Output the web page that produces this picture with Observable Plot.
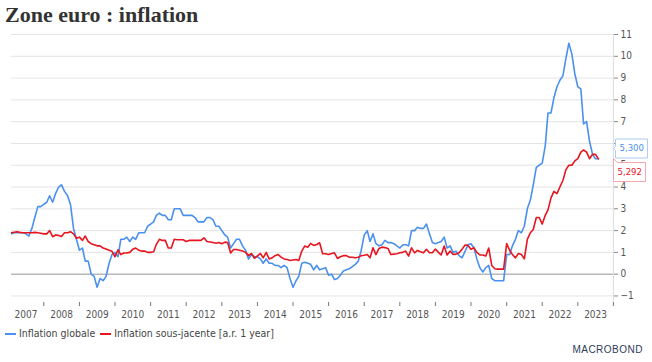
<!DOCTYPE html>
<html><head><meta charset="utf-8">
<script src="https://cdn.jsdelivr.net/npm/d3@7"></script>
<script src="https://cdn.jsdelivr.net/npm/@observablehq/plot@0.6"></script>
<style>
body{margin:0;background:#fff;width:652px;height:362px;position:relative;overflow:hidden;font-family:"Liberation Sans Narrow","DejaVu Sans Condensed","Liberation Sans",sans-serif;}
#title{position:absolute;left:5px;top:3px;font:bold 22px "Liberation Serif",serif;color:#333;line-height:24px;white-space:nowrap}
#chart{position:absolute;left:0;top:26px}
#legend{position:absolute;left:5px;top:326px;font-size:10.5px;color:#444;line-height:14px;white-space:nowrap}
.sw{display:inline-block;width:11px;height:2px;vertical-align:middle;margin-right:3px}
.item{margin-right:5px}
#logo{position:absolute;right:9px;top:344px;font:10px "Liberation Sans",sans-serif;letter-spacing:0.5px;color:#2d3b5a}
.tip-blue text{fill:#4a90ee !important;stroke:none !important}
.tip-red text{fill:#e8141e !important;stroke:none !important}
</style>
</head><body>
<div id="title">Zone euro : inflation</div>
<div id="chart"></div>
<div id="legend"></div>
<div id="logo">MACROBOND</div>
<script>
// Monthly values, Jan 2007 .. Aug 2023
const headline = [
  1.8, 1.85, 1.9, 1.9, 1.9, 1.9, 1.85, 1.75, 2.1, 2.6, 3.1, 3.1,
  3.2, 3.3, 3.6, 3.3, 3.7, 4.0, 4.1, 3.8, 3.6, 3.2, 2.1, 1.6,
  1.1, 1.2, 0.6, 0.6, 0.0, -0.1, -0.6, -0.2, -0.3, -0.1, 0.5, 0.9,
  1.0, 0.8, 1.6, 1.6, 1.7, 1.5, 1.7, 1.6, 1.9, 1.9, 1.9, 2.2,
  2.3, 2.4, 2.7, 2.8, 2.7, 2.7, 2.5, 2.5, 3.0, 3.0, 3.0, 2.7,
  2.7, 2.7, 2.7, 2.6, 2.4, 2.4, 2.4, 2.6, 2.6, 2.5, 2.2, 2.2,
  2.0, 1.8, 1.7, 1.2, 1.4, 1.6, 1.6, 1.3, 1.1, 0.7, 0.9, 0.8,
  0.8, 0.7, 0.5, 0.7, 0.5, 0.5, 0.4, 0.4, 0.3, 0.4, 0.3, -0.2,
  -0.6, -0.3, -0.1, 0.5, 0.55, 0.5, 0.45, 0.2, 0.4, 0.2, 0.25, 0.3,
  -0.05, 0.0, -0.25, -0.2, -0.05, 0.15, 0.2, 0.25, 0.35, 0.45, 0.6, 1.1,
  1.8, 2.0, 1.5, 1.85, 1.4, 1.3, 1.35, 1.55, 1.45, 1.45, 1.4, 1.3,
  1.2, 1.35, 1.35, 1.3, 2.0, 2.0, 2.15, 2.1, 2.1, 2.3, 1.85, 1.45,
  1.4, 1.45, 1.5, 1.7, 1.2, 1.3, 1.0, 1.05, 0.85, 0.75, 1.05, 1.35,
  1.4, 1.2, 0.7, 0.3, 0.1, 0.3, 0.4, -0.2, -0.3, -0.3, -0.3, -0.3,
  0.9, 0.9, 1.3, 1.6, 2.0, 1.9, 2.2, 3.0, 3.4, 4.1, 4.9, 5.0,
  5.1, 5.9, 7.4, 7.4, 8.1, 8.6, 8.9, 9.1, 9.9, 10.6, 10.1, 9.2,
  8.6, 8.5, 6.9, 7.0, 6.1, 5.5, 5.3, 5.3
];
const core = [
  1.88, 1.9, 1.92, 1.95, 1.92, 1.9, 1.9, 1.9, 1.9, 1.92, 1.9, 1.88,
  1.85, 1.85, 2.0, 1.72, 1.8, 1.78, 1.73, 1.9, 1.9, 1.95, 1.85, 1.65,
  1.7, 1.55, 1.75, 1.5, 1.4, 1.35, 1.3, 1.3, 1.2, 1.15, 1.1, 1.05,
  0.8, 1.12, 0.9, 0.97, 0.97, 1.0, 1.14, 1.2, 1.1, 1.06, 1.06, 1.0,
  1.0, 1.03, 1.37, 1.6, 1.55, 1.55, 1.2, 1.2, 1.6, 1.58, 1.58, 1.58,
  1.5, 1.55, 1.55, 1.55, 1.55, 1.55, 1.67, 1.5, 1.48, 1.45, 1.42, 1.45,
  1.4, 1.47, 1.45, 0.97, 1.13, 1.13, 1.1, 1.06, 1.0, 0.85, 0.95, 0.73,
  0.84, 0.95, 0.75, 1.0, 0.7, 0.75, 0.85, 0.9, 0.78, 0.7, 0.67, 0.63,
  0.65, 0.67, 0.63, 1.06, 1.29, 1.24, 1.41, 1.32, 1.36, 1.44, 0.94, 0.94,
  0.9, 0.95, 0.98, 0.72, 0.8, 0.85, 0.85, 0.78, 0.78, 0.75, 0.78, 0.85,
  0.87, 0.9, 0.75, 1.21, 0.9, 1.18, 1.24, 1.22, 1.18, 0.9, 0.92, 0.94,
  0.98, 1.0, 1.06, 0.83, 1.21, 0.98, 1.09, 1.03, 0.98, 1.14, 0.98, 0.98,
  1.15, 1.0, 0.88, 1.29, 0.88, 1.06, 0.9, 0.92, 0.98, 1.14, 1.34, 1.32,
  1.14, 1.21, 1.0, 0.88, 0.88, 0.83, 1.2, 0.4, 0.25, 0.23, 0.23, 0.23,
  1.4, 1.1, 0.9, 0.75, 0.95, 0.9, 0.7, 1.6, 1.9, 2.05, 2.6, 2.6,
  2.3, 2.7, 2.95, 3.5, 3.8, 3.7, 4.0, 4.3, 4.8, 5.0, 5.0, 5.2,
  5.3, 5.6, 5.7, 5.6, 5.3, 5.5, 5.5, 5.292
];
const years = [2007, 2008, 2009, 2010, 2011, 2012, 2013, 2014, 2015, 2016, 2017, 2018, 2019, 2020, 2021, 2022, 2023];
const yTicks = [-1, 0, 1, 2, 3, 4, 5, 6, 7, 8, 9, 10, 11];
const seriesNames = ["Inflation globale", "Inflation sous-jacente [a.r. 1 year]"];
const endLabels = ["5,300", "5,292"];
const colors = ["#4a90ee", "#e8141e"];

const startYear = years[0];
const yMin = -1.3, yMax = 11;
const dates = headline.map((_, i) => new Date(Date.UTC(startYear, i, 1)));
const rows = dates.map((d, i) => ({date: d, headline: headline[i], core: core[i]}));
const xStart = new Date(Date.UTC(startYear, 0, 1));
const xEnd = new Date(Date.UTC(years[years.length - 1] + 1, 0, 1));
const boundaries = years.map(y => new Date(Date.UTC(y + 1, 0, 1)));
const labelDates = years.map(y => new Date(Date.UTC(y, 6, 2)));

const font = '"Liberation Sans Narrow","DejaVu Sans Condensed","Liberation Sans",sans-serif';

const chart = Plot.plot({
  width: 652, height: 298,
  marginTop: 8, marginBottom: 22, marginLeft: 11, marginRight: 39,
  style: {fontFamily: font, fontSize: "10px", color: "#555", background: "transparent", overflow: "visible"},
  x: {type: "utc", domain: [xStart, xEnd], range: [7.7, 612.9]},
  y: {domain: [yMin, yMax]},
  marks: [
    Plot.gridY(yTicks, {stroke: "#e4e4e4", strokeOpacity: 1}),
    Plot.ruleY([0], {stroke: "#a0a0a0"}),
    Plot.ruleX([xEnd], {stroke: "#dcdcdc"}),
    Plot.axisY(yTicks, {anchor: "right", tickSize: 4, tickPadding: 3, stroke: "#888", fill: "#555", label: null, fontSize: 10}),
    Plot.ruleX(boundaries, {y1: yMin, y2: yMin, insetBottom: -4, stroke: "#777"}),
    Plot.axisX(labelDates, {tickSize: 0, tickPadding: 8, tickFormat: d => String(d.getUTCFullYear()), fill: "#555", label: null, fontSize: 10}),
    Plot.lineY(rows, {x: "date", y: "headline", stroke: colors[0], strokeWidth: 1.6, clip: true}),
    Plot.lineY(rows, {x: "date", y: "core", stroke: colors[1], strokeWidth: 1.6, clip: true}),
    Plot.tip([endLabels[0]], {x: () => xEnd, y: () => headline[headline.length - 1], title: d => d,
      anchor: "left", dy: -10, fill: "white", stroke: "#a9cbf5", fontSize: 9.5, textPadding: 4, pointerSize: 4,
      pathFilter: "none", className: "tip-blue"}),
    Plot.tip([endLabels[1]], {x: () => xEnd, y: () => core[core.length - 1], title: d => d,
      anchor: "top-left", dy: 0, fill: "white", stroke: "#f5a9ae", fontSize: 9.5, textPadding: 4, pointerSize: 4,
      pathFilter: "none", className: "tip-red"})
  ]
});
document.getElementById("chart").appendChild(chart);

const legend = document.getElementById("legend");
seriesNames.forEach((name, i) => {
  const s = document.createElement("span");
  s.className = "item";
  s.innerHTML = `<span class="sw" style="background:${colors[i]}"></span>${name}`;
  legend.appendChild(s);
});
</script>
</body></html>
